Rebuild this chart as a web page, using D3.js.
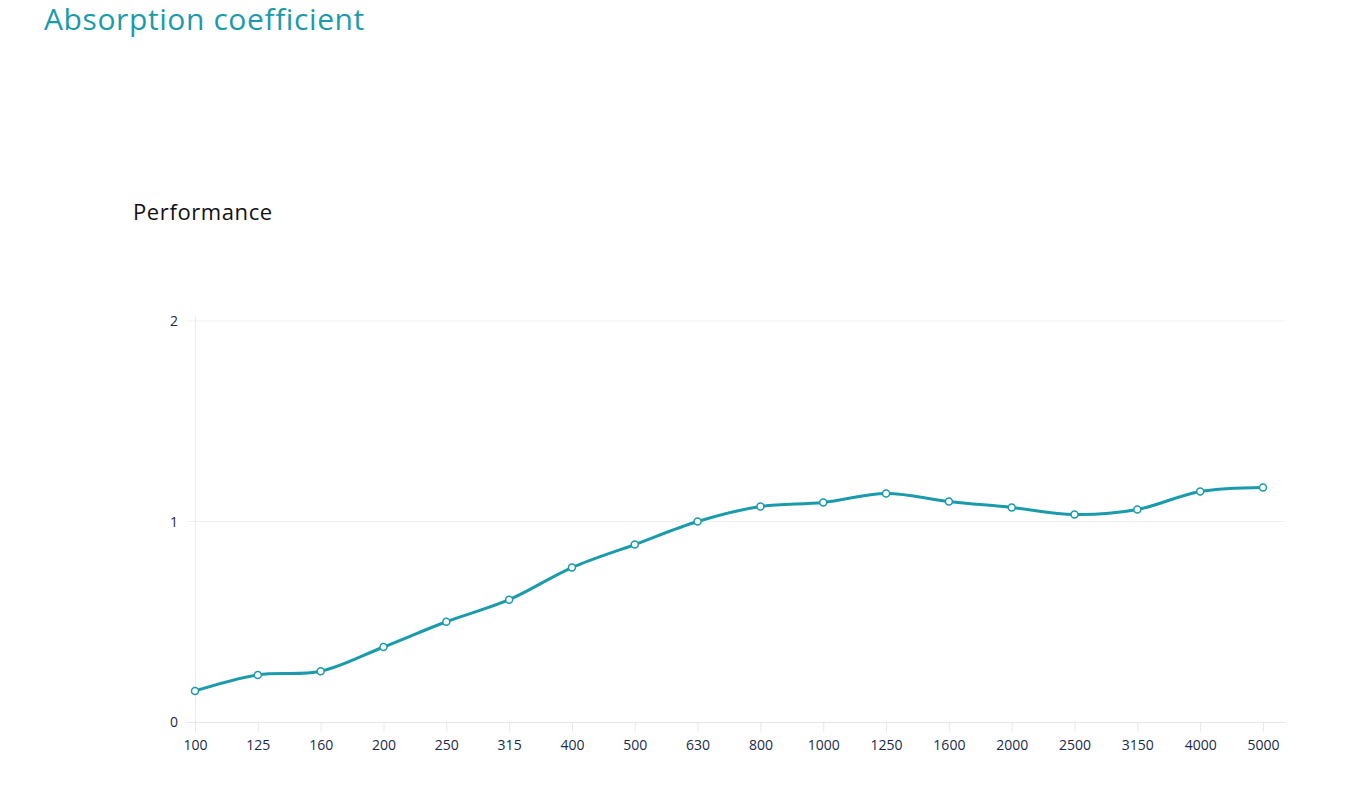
<!DOCTYPE html>
<html>
<head>
<meta charset="utf-8">
<script src="https://cdn.jsdelivr.net/npm/d3@7"></script>
<style>
  body { margin: 0; background: #fff; }
  text { font-family: "Open Sans", "DejaVu Sans", sans-serif; }
</style>
</head>
<body>
<div id="chart"></div>
<script>
// Chart size
const width = 1358;
const height = 802;

// Frequency bands (Hz) and absorption values
const frequencies = ["100", "125", "160", "200", "250", "315", "400", "500", "630",
    "800", "1000", "1250", "1600", "2000", "2500", "3150", "4000", "5000"];
const performance = [0.155, 0.235, 0.253, 0.374, 0.50, 0.61, 0.77, 0.885, 1.0,
    1.075, 1.095, 1.14, 1.10, 1.07, 1.035, 1.06, 1.15, 1.17];
const yTicks = [0, 1, 2];

const svg = d3.select("#chart")
    .append("svg")
    .attr("width", width)
    .attr("height", height);

// Titles
svg.append("text")
    .attr("x", 44)
    .attr("y", 30)
    .attr("fill", "#1a9bac")
    .attr("font-size", 30)
    .attr("letter-spacing", 0.6)
    .text("Absorption coefficient");

svg.append("text")
    .attr("x", 133)
    .attr("y", 220)
    .attr("fill", "#111")
    .attr("font-size", 22)
    .attr("letter-spacing", 0.6)
    .text("Performance");

// Scales
const x = d3.scalePoint()
    .domain(frequencies)
    .range([195, 1263]);

const y = d3.scaleLinear()
    .domain([0, 2])
    .range([722, 321]);

// Horizontal gridlines
svg.append("g")
    .selectAll("line")
    .data(yTicks.filter(d => d > 0))
    .join("line")
    .attr("x1", 187)
    .attr("x2", 1285)
    .attr("y1", d => y(d))
    .attr("y2", d => y(d))
    .attr("stroke", "#f0f0f0")
    .attr("stroke-width", 1);

// Vertical axis line
svg.append("line")
    .attr("x1", 195.5)
    .attr("x2", 195.5)
    .attr("y1", 316)
    .attr("y2", 722)
    .attr("stroke", "#ececec");

// Y tick labels
svg.append("g")
    .selectAll("text")
    .data(yTicks)
    .join("text")
    .attr("x", 178)
    .attr("y", d => y(d) + 5)
    .attr("text-anchor", "end")
    .attr("font-size", 14)
    .attr("fill", "#1b2a4a")
    .text(d => d);

// X axis
const xAxis = svg.append("g")
    .attr("transform", `translate(0,${y(0) + 0.5})`)
    .call(d3.axisBottom(x).tickSize(9).tickPadding(9).tickSizeOuter(0));

xAxis.select(".domain")
    .attr("d", "M187,0H1285")
    .attr("stroke", "#e6e6e6");

xAxis.selectAll(".tick line").attr("stroke", "#e6e6e6");
xAxis.selectAll(".tick text")
    .attr("font-size", 14)
    .attr("fill", "#1b2a4a")
    .attr("font-family", "\"Open Sans\", \"DejaVu Sans\", sans-serif");

// Line
const line = d3.line()
    .x((d, i) => x(frequencies[i]))
    .y(d => y(d))
    .curve(d3.curveCatmullRom.alpha(0.5));

svg.append("path")
    .datum(performance)
    .attr("fill", "none")
    .attr("stroke", "#1a9bac")
    .attr("stroke-width", 3)
    .attr("stroke-linejoin", "round")
    .attr("d", line);

// Markers
svg.append("g")
    .selectAll("circle")
    .data(performance)
    .join("circle")
    .attr("cx", (d, i) => x(frequencies[i]))
    .attr("cy", d => y(d))
    .attr("r", 3.5)
    .attr("fill", "#fff")
    .attr("stroke", "#1a9bac")
    .attr("stroke-width", 1.5);
</script>
</body>
</html>
